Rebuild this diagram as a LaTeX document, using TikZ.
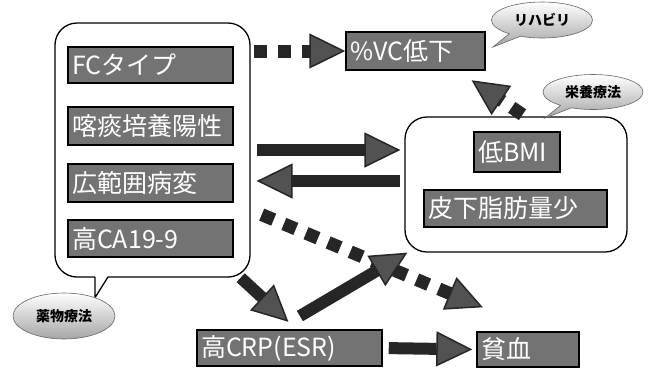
\documentclass[tikz,border=0pt]{standalone}
\usepackage{fontspec}
\setmainfont{Noto Sans CJK JP}
\usetikzlibrary{arrows.meta,shapes.geometric,shapes.callouts}

\tikzset{
  darkBox/.style={draw=black, line width=1.5pt, fill=black!55, text=white,
    inner xsep=4pt, inner ysep=0pt, align=left, font=\fontsize{25}{28}\selectfont},
  groupBox/.style={draw=black, line width=1.3pt, rounded corners=22pt},
  bubble/.style={top color=white, bottom color=black!35, draw=black!60,
    line width=0.6pt, inner sep=0pt, font=\bfseries\fontsize{14}{16}\selectfont},
  bigArrow/.style={draw=black!85, line width=12pt,
    -{Triangle[length=36pt,width=35pt,fill=black!68,line width'=1.5pt]}},
  dotArrow/.style={bigArrow, line width=13pt, dash pattern=on 13pt off 11pt},
}

\begin{document}
\begin{tikzpicture}[x=1pt,y=-1pt]
\useasboundingbox (0,0) rectangle (653,368);

% left group
\node[groupBox, minimum width=195pt, minimum height=254pt] (riskBox) at (152.5,150) {};
\fill[white] ([xshift=-57.5pt,yshift=1.5pt]riskBox.south) -- ([xshift=-57.5pt,yshift=-20pt]riskBox.south)
  -- ([xshift=-44.5pt,yshift=1.5pt]riskBox.south) -- cycle;
\draw[line width=1.3pt] ([xshift=-57.5pt,yshift=0.7pt]riskBox.south) -- ([xshift=-57.5pt,yshift=-20pt]riskBox.south)
  -- ([xshift=-44.5pt,yshift=0.7pt]riskBox.south);
\node[darkBox, text width=157pt, minimum height=36pt] (fcType) at (150.5,65) {FCタイプ};
\node[darkBox, text width=157pt, minimum height=38pt] (sputum) at (150.5,126) {喀痰培養陽性};
\node[darkBox, text width=157pt, minimum height=38pt] (wideLesion) at (150.5,183) {広範囲病変};
\node[darkBox, text width=157pt, minimum height=37pt] (highCA) at (150.5,238.5) {高CA19-9};

% right group
\node[groupBox, minimum width=222pt, minimum height=135pt] (bmiBox) at (516,184.5) {};
\node[darkBox, text width=78pt, minimum height=40pt] (lowBMI) at (517,152) {低BMI};
\node[darkBox, text width=175pt, minimum height=37pt] (lowFat) at (515.5,208.5) {皮下脂肪量少};

\node[darkBox, text width=131pt, minimum height=38pt] (vcLow) at (415.5,51) {\%VC低下};
\node[darkBox, text width=177pt, minimum height=36pt] (highCRP) at (289.5,348) {高CRP(ESR)};
\node[darkBox, text width=94pt, minimum height=35pt] (anemia) at (528,349.5) {貧血};

% bubbles
\node[bubble, ellipse callout, minimum width=101pt, minimum height=36pt,
  callout absolute pointer={(493,47)}] (rehab) at (542,20) {リハビリ};
\node[bubble, ellipse callout, minimum width=100pt, minimum height=35pt,
  callout absolute pointer={(545,118)}] (nutrition) at (593,92) {栄養療法};
\node[bubble, ellipse, minimum width=102pt, minimum height=46pt] (drugTherapy) at (64,316) {薬物療法};

% arrows
\draw[dotArrow, shorten <=3pt] (riskBox.east |- vcLow.west) -- (vcLow.west);
\draw[bigArrow, shorten <=6pt, shorten >=4pt] (riskBox.east) -- (riskBox.east -| bmiBox.west);
\draw[bigArrow, shorten <=4pt, shorten >=6pt] ([yshift=-31pt]riskBox.east -| bmiBox.west) -- ([yshift=-31pt]riskBox.east);
\draw[dotArrow, shorten <=3pt, shorten >=17pt] ([xshift=9pt]bmiBox.north) -- ([xshift=42pt]vcLow.south);
\draw[dotArrow, shorten <=12pt, shorten >=62pt] ([yshift=-60pt]riskBox.east) -- ([xshift=12pt]anemia.north);
\draw[bigArrow, shorten >=11pt] ([xshift=-10pt]riskBox.south east) -- ([xshift=7pt]highCRP.north);
\draw[bigArrow, shorten <=26pt] ([xshift=-12pt]highCRP.north) -- ([xshift=3pt]bmiBox.south west);
\draw[bigArrow, shorten <=6pt, shorten >=4pt] (highCRP.east) -- (anemia.west);
\end{tikzpicture}
\end{document}
